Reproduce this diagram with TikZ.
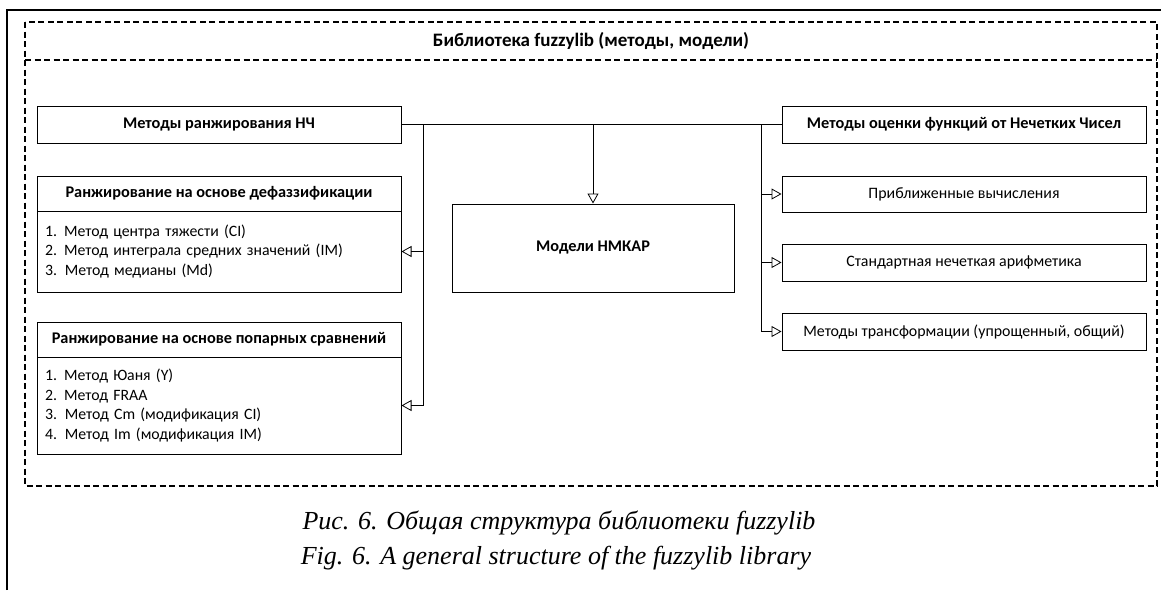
\documentclass[tikz,border=0pt]{standalone}
\usepackage{fontspec}
\setmainfont{Carlito}
\newfontfamily\capfont{Liberation Serif}
\usetikzlibrary{arrows.meta}
\begin{document}
\begin{tikzpicture}[x=1pt,y=-1pt,
  box/.style={draw, line width=1pt, minimum width=364pt, inner sep=0pt, font=\fontsize{15.9}{18}\selectfont},
  hbox/.style={box, font=\fontsize{16.3}{19}\selectfont\bfseries},
  lbox/.style={box, text width=348pt, align=left, inner xsep=8pt, font=\fontsize{15.8}{19.6}\selectfont},
  conn/.style={line width=0.8pt},
  arr/.style={conn, -{Triangle[open, length=10pt, width=11pt]}},
  dashline/.style={line width=1.2pt, dash pattern=on 6pt off 3.5pt},
  captext/.style={font=\capfont\itshape\fontsize{26}{30}\selectfont}
]
\useasboundingbox (0,0) rectangle (1161,590);
% page frame
\draw[line width=1.3pt] (7,590) -- (7,10) -- (1161,10);
% dashed library frame
\draw[dashline] (25,22) rectangle (1157,486);
\draw[dashline] (25,60) -- (1157,60);
\node[font=\fontsize{19}{22}\selectfont\bfseries] (title) at (591,41) {Библиотека fuzzylib (методы, модели)};

% left column
\node[hbox, minimum height=37pt] (rank) at (219,124.5) {Методы ранжирования НЧ};
\node[hbox, minimum height=35pt] (defh) at (219,193.5) {Ранжирование на основе дефаззификации};
\node[lbox, minimum height=81pt] (defl) at (219,251.5) {1.\hspace{0.45em}Метод центра тяжести (CI)\\2.\hspace{0.45em}Метод интеграла средних значений (IM)\\3. Метод медианы (Md)};
\node[hbox, minimum height=35pt] (parh) at (219,339.5) {Ранжирование на основе попарных сравнений};
\node[lbox, minimum height=97pt] (parl) at (219,405.5) {1.\hspace{0.45em}Метод Юаня (Y)\\2.\hspace{0.45em}Метод FRAA\\3. Метод Cm (модификация CI)\\4. Метод Im (модификация IM)};

% center
\node[hbox, minimum width=282pt, minimum height=88pt] (model) at (593,248) {Модели НМКАР};

% right column
\node[hbox, minimum height=37pt] (func) at (964,124.5) {Методы оценки функций от Нечетких Чисел};
\node[box, minimum height=36pt] (r1) at (964,194) {Приближенные вычисления};
\node[box, minimum height=37pt] (r2) at (964,262.5) {Стандартная нечеткая арифметика};
\node[box, minimum height=37pt] (r3) at (964,331.5) {Методы трансформации (упрощенный, общий)};

% connectors
\draw[conn] (rank.east) -- (func.west);
\coordinate (jl) at (423,124.5);
\coordinate (jc) at (593,124.5);
\coordinate (jr) at (761,124.5);
\draw[arr] (jl) |- (parl.east);
\draw[arr] (jl |- defl.east) -- (defl.east);
\draw[arr] (jc) -- (model.north);
\draw[arr] (jr) |- (r3.west);
\draw[arr] (jr |- r1.west) -- (r1.west);
\draw[arr] (jr |- r2.west) -- (r2.west);

% captions
\node[captext] (c1) at (559,523) {Рис. 6. Общая структура библиотеки fuzzylib};
\node[captext] (c2) at (556,558) {Fig. 6. A general structure of the fuzzylib library};
\end{tikzpicture}
\end{document}
